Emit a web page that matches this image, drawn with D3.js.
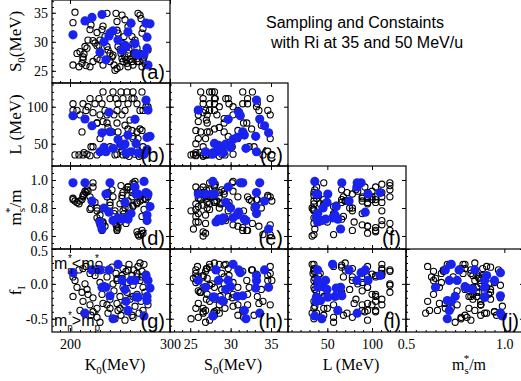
<!DOCTYPE html>
<html>
<head>
<meta charset="utf-8">
<script src="https://cdn.jsdelivr.net/npm/d3@7"></script>
<style>
  body { margin: 0; background: #fff; }
  svg { display: block; }
</style>
</head>
<body>
<svg width="521" height="381"></svg>
<script>
// blue samples (accepted by the constraints)
const blueK0 = [203, 215, 222, 230, 232, 234, 236, 239, 240, 243, 248, 252, 255, 256, 258, 261, 265, 266, 268, 274, 276, 277, 277, 278, 280];
const blueS0 = [31.2, 33.6, 34.2, 28.2, 34.7, 30.0, 26.9, 31.0, 31.5, 31.9, 30.3, 28.5, 29.4, 29.1, 31.7, 33.2, 29.7, 28.0, 27.8, 27.8, 33.2, 30.8, 28.9, 26.0, 33.1];
const blueL = [87.8, 83.4, 74.3, 39.2, 64.8, 45, 39.2, 92.4, 66.2, 43.8, 55.9, 48, 49.6, 37.8, 61.7, 39.2, 83.0, 50.5, 37.8, 36.0, 109, 58.6, 42.4, 95.5, 60];
const blueMs = [0.98, 0.98, 0.85, 0.70, 0.65, 0.80, 0.90, 0.77, 0.98, 0.71, 0.73, 0.72, 0.84, 0.73, 0.72, 0.76, 0.95, 0.90, 0.90, 0.99, 0.91, 0.75, 0.71, 0.90, 0.81];
const blueFI = [0.16, -0.42, 0.20, 0.20, -0.05, -0.04, -0.05, 0.20, -0.17, -0.50, 0.28, 0.05, -0.08, -0.25, -0.38, 0.05, 0.05, -0.19, -0.19, -0.46, 0.12, -0.18, -0.24, 0.05, -0.06];

// open circles (all sampled points)
const blackK0 = [205, 203, 203, 207, 210, 209, 212, 213, 213, 214,
  216, 217, 220, 220, 221, 223, 225, 227, 229, 230,
  227, 232, 233, 237, 235, 237, 238, 240, 242, 240,
  243, 244, 245, 246, 247, 247, 248, 248, 250, 251,
  252, 253, 253, 254, 255, 256, 257, 258, 258, 259,
  260, 262, 263, 263, 264, 265, 267, 267, 268, 269,
  270, 271, 272, 273, 273, 274, 275, 276, 230, 233,
  227, 223, 218, 252, 255, 258, 262, 263, 267, 215,
  250, 247, 270, 278, 272];
const blackS0 = [35.1, 33.3, 26.0, 28.0, 28.3, 25.7, 26.3, 27.0, 27.4, 27.9,
  25.9, 28.9, 32.1, 25.7, 32.9, 30.2, 29.8, 29.3, 29.4, 30.3,
  31.6, 32.1, 32.7, 34.9, 30.9, 29.2, 28.6, 28.0, 27.4, 26.6,
  27.7, 26.0, 25.1, 34.9, 33.5, 32.0, 31.5, 29.2, 28.7, 28.0,
  27.1, 26.6, 29.7, 30.9, 27.4, 26.9, 26.3, 25.7, 28.0, 28.6,
  27.0, 26.6, 26.0, 27.4, 28.1, 30.3, 26.6, 27.1, 34.9, 26.6,
  34.6, 34.0, 31.5, 32.3, 26.9, 27.4, 26.2, 33.2, 26.9, 26.0,
  27.1, 26.6, 30.3, 34.6, 33.8, 32.6, 30.9, 29.7, 28.9, 29.2,
  25.7, 25.4, 28.0, 28.6, 25.7];
const blackL = [35, 104, 95, 95, 89, 35, 66, 35, 104, 38,
  95, 36, 111, 34, 46, 46, 104, 35, 111, 89,
  78, 104, 120, 89, 95, 78, 72, 111, 66, 46,
  120, 89, 35, 111, 95, 78, 104, 66, 46, 120,
  89, 35, 111, 57, 95, 35, 120, 38, 104, 33,
  82, 111, 57, 120, 111, 36, 104, 66, 57, 33,
  95, 35, 120, 46, 95, 35, 38, 100, 57, 80,
  78, 92, 100, 40, 75, 70, 68, 60, 42, 84,
  50, 36, 70, 100, 68];
const blackMs = [0.85, 0.86, 0.87, 0.84, 0.85, 0.83, 0.86, 0.89, 0.88, 0.90,
  0.91, 0.93, 0.88, 0.79, 0.80, 0.98, 0.84, 0.73, 0.71, 0.68,
  0.78, 0.64, 0.69, 0.88, 0.67, 0.90, 0.91, 0.84, 0.93, 0.82,
  0.88, 0.76, 0.78, 0.68, 0.67, 0.64, 0.66, 0.72, 0.83, 0.96,
  0.87, 0.91, 0.78, 0.76, 0.83, 0.69, 0.93, 0.95, 0.95, 0.80,
  0.93, 0.91, 0.81, 0.98, 0.97, 0.99, 0.63, 0.84, 0.61, 0.60,
  0.88, 0.61, 0.64, 0.86, 0.62, 0.79, 0.87, 0.86, 0.75, 0.70,
  0.80, 0.95, 0.92, 0.89, 0.80, 0.85, 0.88, 0.82, 0.83, 0.92,
  0.70, 0.65, 0.85, 0.88, 0.74];
const blackFI = [0.05, -0.18, 0.10, -0.05, -0.38, 0.20, -0.12, 0.22, -0.25, -0.42,
  0.25, -0.08, -0.30, 0.15, -0.45, -0.20, 0.12, -0.35, 0.28, 0.02,
  -0.48, -0.15, 0.20, -0.30, -0.05, 0.10, -0.42, -0.22, 0.24, -0.35,
  0.00, -0.10, -0.50, 0.15, -0.28, 0.05, -0.38, 0.27, -0.18, -0.45,
  0.08, -0.05, 0.22, -0.30, -0.52, 0.18, -0.12, 0.02, -0.40, 0.28,
  -0.22, 0.12, -0.48, -0.02, 0.20, -0.32, 0.10, -0.15, 0.25, -0.42,
  0.05, -0.25, 0.18, -0.05, -0.38, 0.28, -0.12, 0.14, -0.55, -0.28,
  0.22, -0.40, -0.15, 0.12, -0.08, 0.20, -0.45, -0.18, 0.15, 0.00,
  -0.35, 0.08, 0.30, -0.30, 0.10];

// tick labels
const ticksK0 = [200, 300];
const ticksS0 = [25, 30, 35];
const ticksL = [50, 100];
const ticksMsRow = [0.6, 0.8, 1.0];
const ticksMsCol = [0.5, 1.0];
const ticksFI = [-0.5, 0.0, 0.5];

const black = blackK0.map((k, i) => ({ K0: k, S0: blackS0[i], L: blackL[i], ms: blackMs[i], fI: blackFI[i] }));
const blue = blueK0.map((k, i) => ({ K0: k, S0: blueS0[i], L: blueL[i], ms: blueMs[i], fI: blueFI[i] }));

const cellW = 118, cellH = 83, x0 = 52, y0 = 0;

const rowDims = [
  { key: 'S0', domain: [22.9, 37.2], ticks: ticksS0, minor: d3.range(23, 38, 1), fmt: d => d },
  { key: 'L', domain: [20, 132], ticks: ticksL, minor: d3.range(20, 131, 10), fmt: d => d },
  { key: 'ms', domain: [0.507, 1.1], ticks: ticksMsRow, minor: d3.range(0.55, 1.1, 0.05), fmt: d => d.toFixed(1) },
  { key: 'fI', domain: [-0.69, 0.5], ticks: ticksFI, minor: d3.range(-0.6, 0.5, 0.1), fmt: d => d.toFixed(1) }
];
const colDims = [
  { key: 'K0', domain: [182, 300], ticks: ticksK0, minor: d3.range(190, 300, 10), fmt: d => d },
  { key: 'S0', domain: [22.5, 37.1], ticks: ticksS0, minor: d3.range(23, 38, 1), fmt: d => d },
  { key: 'L', domain: [6, 138], ticks: ticksL, minor: d3.range(10, 138, 10), fmt: d => d },
  { key: 'ms', domain: [0.5, 1.1], ticks: ticksMsCol, minor: d3.range(0.55, 1.1, 0.05), fmt: d => d.toFixed(1) }
];

const yScales = rowDims.map((d, r) => d3.scaleLinear().domain(d.domain).range([y0 + (r + 1) * cellH, y0 + r * cellH]));
const xScales = colDims.map((d, c) => d3.scaleLinear().domain(d.domain).range([x0 + c * cellW, x0 + (c + 1) * cellW]));

const panels = [
  { r: 0, c: 0, tag: '(a)' }, { r: 1, c: 0, tag: '(b)' }, { r: 1, c: 1, tag: '(c)' },
  { r: 2, c: 0, tag: '(d)' }, { r: 2, c: 1, tag: '(e)' }, { r: 2, c: 2, tag: '(f)' },
  { r: 3, c: 0, tag: '(g)' }, { r: 3, c: 1, tag: '(h)' }, { r: 3, c: 2, tag: '(i)' }, { r: 3, c: 3, tag: '(j)' }
];

const svg = d3.select('svg');
const serif = "'Liberation Serif', 'Times New Roman', serif";
const sans = "'Liberation Sans', Arial, sans-serif";

// text with sub/superscripts; off = baseline shift (down positive)
function rich(sel, parts) {
  let prev = 0;
  parts.forEach(p => {
    const off = p.off || 0;
    sel.append('tspan')
      .attr('dy', off - prev)
      .attr('dx', p.dx || 0)
      .attr('font-size', p.size || null)
      .text(p.t);
    prev = off;
  });
}

function styleAxis(g, labels) {
  g.select('.domain').remove();
  g.selectAll('line').attr('stroke', '#000').attr('stroke-width', 1);
  g.selectAll('text').attr('font-family', serif).attr('font-size', 14).attr('fill', '#000');
  if (!labels) g.selectAll('text').remove();
}

panels.forEach(p => {
  const x = xScales[p.c], y = yScales[p.r];
  const rd = rowDims[p.r], cd = colDims[p.c];
  const left = x.range()[0], right = x.range()[1];
  const top = y.range()[1], bottom = y.range()[0];

  // ticks on four sides, pointing inward
  svg.append('g').attr('transform', `translate(${left},0)`)
    .call(d3.axisLeft(y).tickValues(rd.ticks).tickSize(-4).tickSizeOuter(0).tickPadding(4).tickFormat(rd.fmt))
    .call(g => styleAxis(g, p.c === 0))
    .call(g => g.selectAll('text').attr('dy', d => d === 0.5 ? '0.45em' : '0.32em'));
  svg.append('g').attr('transform', `translate(${left},0)`)
    .call(d3.axisLeft(y).tickValues(rd.minor).tickSize(-2).tickSizeOuter(0).tickFormat(''))
    .call(g => styleAxis(g, false));
  svg.append('g').attr('transform', `translate(${right},0)`)
    .call(d3.axisRight(y).tickValues(rd.ticks).tickSize(-4).tickSizeOuter(0).tickFormat(''))
    .call(g => styleAxis(g, false));
  svg.append('g').attr('transform', `translate(0,${bottom})`)
    .call(d3.axisBottom(x).tickValues(cd.ticks).tickSize(-4).tickSizeOuter(0).tickPadding(7).tickFormat(cd.fmt))
    .call(g => styleAxis(g, p.r === 3));
  svg.append('g').attr('transform', `translate(0,${bottom})`)
    .call(d3.axisBottom(x).tickValues(cd.minor).tickSize(-2).tickSizeOuter(0).tickFormat(''))
    .call(g => styleAxis(g, false));
  svg.append('g').attr('transform', `translate(0,${top})`)
    .call(d3.axisTop(x).tickValues(cd.ticks).tickSize(-4).tickSizeOuter(0).tickFormat(''))
    .call(g => styleAxis(g, false));

  // open circles then blue dots
  svg.append('g').selectAll('circle').data(black).join('circle')
    .attr('cx', d => x(d[cd.key]))
    .attr('cy', d => y(d[rd.key]))
    .attr('r', 3.1)
    .attr('fill', 'none')
    .attr('stroke', '#000')
    .attr('stroke-width', 1.1);
  svg.append('g').selectAll('circle').data(blue).join('circle')
    .attr('cx', d => x(d[cd.key]))
    .attr('cy', d => y(d[rd.key]))
    .attr('r', 4.6)
    .attr('fill', '#1a22ee');

  svg.append('rect')
    .attr('x', left).attr('y', top)
    .attr('width', right - left).attr('height', bottom - top)
    .attr('fill', 'none').attr('stroke', '#000').attr('stroke-width', 1.2);

  svg.append('text')
    .attr('x', right - 5).attr('y', bottom - 4)
    .attr('text-anchor', 'end')
    .attr('font-family', sans).attr('font-size', 20)
    .text(p.tag);
});

// axis titles
const yTitles = [
  [{ t: 'S' }, { t: '0', size: 11, off: 4 }, { t: '(MeV)', off: 0 }],
  [{ t: 'L (MeV)' }],
  [{ t: 'm' }, { t: 's', size: 11, off: 4 }, { t: '*', size: 11, off: -8, dx: -5 }, { t: '/m', off: 0 }],
  [{ t: 'f' }, { t: 'I', size: 11, off: 4 }]
];
yTitles.forEach((parts, r) => {
  const cy = y0 + r * cellH + cellH / 2;
  const t = svg.append('text')
    .attr('transform', `translate(21,${cy}) rotate(-90)`)
    .attr('text-anchor', 'middle')
    .attr('font-family', serif).attr('font-size', 17);
  rich(t, parts);
});

const xTitles = [
  [{ t: 'K' }, { t: '0', size: 11, off: 4 }, { t: '(MeV)', off: 0 }],
  [{ t: 'S' }, { t: '0', size: 11, off: 4 }, { t: '(MeV)', off: 0 }],
  [{ t: 'L (MeV)' }],
  [{ t: 'm' }, { t: 's', size: 11, off: 4 }, { t: '*', size: 11, off: -8, dx: -5 }, { t: '/m', off: 0 }]
];
xTitles.forEach((parts, c) => {
  const t = svg.append('text')
    .attr('x', x0 + c * cellW + cellW / 2 + 4).attr('y', 370)
    .attr('text-anchor', 'middle')
    .attr('font-family', serif).attr('font-size', 16);
  rich(t, parts);
});

// annotations in panel (g)
const gTop = y0 + 3 * cellH;
const ann1 = svg.append('text').attr('x', 54).attr('y', gTop + 20).attr('font-family', sans).attr('font-size', 16);
rich(ann1, [{ t: 'm' }, { t: 'n', size: 10, off: 5 }, { t: '*', size: 10, off: -7, dx: -5 }, { t: '<m', off: 0 },
  { t: 'p', size: 10, off: 5 }, { t: '*', size: 10, off: -7, dx: -5 }]);
const ann2 = svg.append('text').attr('x', 54).attr('y', gTop + 77).attr('font-family', sans).attr('font-size', 16);
rich(ann2, [{ t: 'm' }, { t: 'n', size: 10, off: 5 }, { t: '*', size: 10, off: -7, dx: -5 }, { t: '>m', off: 0 },
  { t: 'p', size: 10, off: 5 }, { t: '*', size: 10, off: -7, dx: -5 }]);

// title
svg.append('text').attr('x', 266).attr('y', 28)
  .attr('font-family', sans).attr('font-size', 16)
  .text('Sampling and Constaints');
svg.append('text').attr('x', 271).attr('y', 48)
  .attr('font-family', sans).attr('font-size', 16)
  .text('with Ri at 35 and 50 MeV/u');
</script>
</body>
</html>
